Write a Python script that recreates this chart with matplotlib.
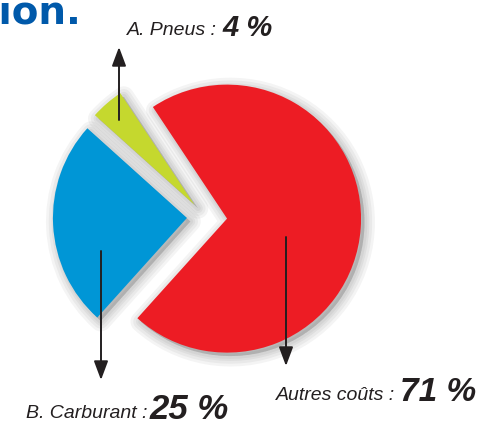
import matplotlib.pyplot as plt
from matplotlib.patches import Shadow

# chart data
labels = ["Autres coûts", "A. Pneus", "B. Carburant"]
shares = [71, 4, 25]
colors = ["#ED1C24", "#C5D82E", "#0096D6"]
explode = [0.165, 0.12, 0.135]  # as a fraction of the radius

W, H = 478, 425
fig = plt.figure(figsize=(W / 100, H / 100), dpi=100)
ax = fig.add_axes([0, 0, 1, 1])

# pixel coords with y measured from the top -> data coords
def py(y):
    return H - y

R = 134
wedges, _ = ax.pie(shares, colors=colors, explode=[e * R for e in explode],
                   startangle=228, counterclock=True, radius=R,
                   center=(205, py(217)), wedgeprops=dict(linewidth=0))
for w in wedges:
    w.set_zorder(2)
    # soft drop shadow built from stacked translucent copies
    for lw in [15, 11, 7, 4]:
        s = Shadow(w, 2.5, -2.5, facecolor="#000000", edgecolor="#000000",
                   linewidth=lw, alpha=0.045, joinstyle="round")
        s.set_zorder(1)
        ax.add_patch(s)

ax.set_xlim(0, W)
ax.set_ylim(0, H)
ax.set_aspect("equal")
ax.axis("off")

# cut-off title
ax.text(81, py(23), "tion.", ha="right", va="baseline", fontsize=28,
        fontweight="bold", color="#0059AA", family="DejaVu Sans")

ink = "#231F20"
arrow = dict(arrowstyle="-|>,head_length=1.15,head_width=0.43", color=ink,
             lw=1.4, shrinkA=0, shrinkB=0, mutation_scale=10)
ax.annotate("", xy=(119, py(47)), xytext=(119, py(120)), arrowprops=arrow)
ax.annotate("", xy=(101, py(380)), xytext=(101, py(251)), arrowprops=arrow)
ax.annotate("", xy=(286, py(366)), xytext=(286, py(237)), arrowprops=arrow)

# labels: light italic name + bold italic percentage
pct = [f"{v} %" for v in shares]
spots = [(395, 400, 400, 401, 24), (217, 222, 35, 36, 21), (147, 150, 418, 419, 25)]
for name, p, (xe, xs, yb1, yb2, big) in zip(labels, pct, spots):
    ax.text(xe, py(yb1), name + " :", ha="right", va="baseline", fontsize=14,
            style="italic", color=ink, family="Liberation Sans")
    ax.text(xs, py(yb2), p, ha="left", va="baseline", fontsize=big,
            style="italic", fontweight="bold", color=ink, family="Liberation Sans")

fig.savefig("out.png", dpi=100)
